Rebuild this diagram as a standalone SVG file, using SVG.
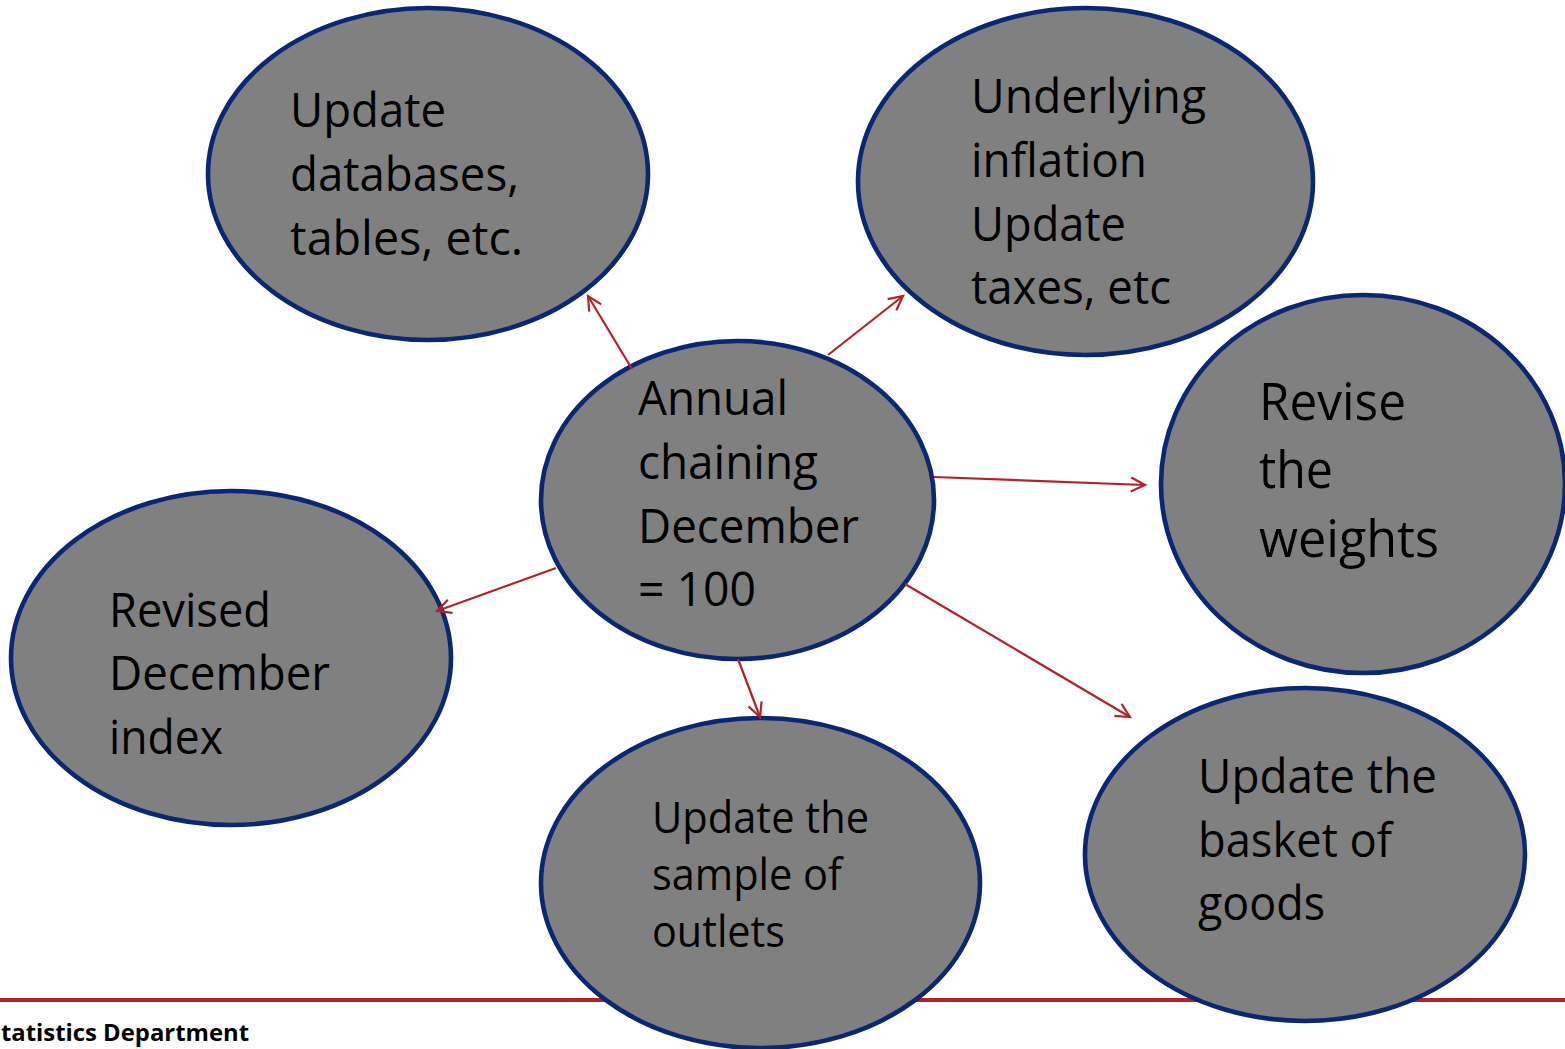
<svg xmlns="http://www.w3.org/2000/svg" width="1565" height="1049" viewBox="0 0 1565 1049">
<style>
.node ellipse{fill:#808080;stroke:#0C2772;stroke-width:4.6}
.node text{font-family:"Open Sans","Noto Sans",sans-serif;fill:#000}
.t48{font-size:48px}
.t51{font-size:51px}
.t43{font-size:43px}
.conn line{stroke:#B0232B;stroke-width:2.2;fill:none}
.footer{font-family:"Open Sans","Noto Sans",sans-serif;font-weight:bold;font-size:23px;fill:#000}
</style>
<defs>
<marker id="arr" markerUnits="userSpaceOnUse" markerWidth="20" markerHeight="20" refX="16" refY="9" orient="auto">
<path d="M2,2 L16,9 L2,16" fill="none" stroke="#B0232B" stroke-width="2.2"/>
</marker>
</defs>
<rect width="1565" height="1049" fill="#fff"/>
<line x1="0" y1="1000" x2="1565" y2="1000" stroke="#B2232C" stroke-width="4"/>
<text class="footer" x="1" y="1041" textLength="248" lengthAdjust="spacingAndGlyphs">tatistics Department</text>

<g id="n-databases" class="node">
<ellipse cx="428" cy="174" rx="220" ry="166"/>
<text class="t48"><tspan x="290" y="127" textLength="156" lengthAdjust="spacingAndGlyphs">Update</tspan><tspan x="290" y="191" textLength="229" lengthAdjust="spacingAndGlyphs">databases,</tspan><tspan x="290" y="255" textLength="233" lengthAdjust="spacingAndGlyphs">tables, etc.</tspan></text>
</g>
<g id="n-inflation" class="node">
<ellipse cx="1085.5" cy="181.5" rx="227.5" ry="173.5"/>
<text class="t48"><tspan x="971" y="113" textLength="235" lengthAdjust="spacingAndGlyphs">Underlying</tspan><tspan x="971" y="177" textLength="176" lengthAdjust="spacingAndGlyphs">inflation</tspan><tspan x="971" y="241" textLength="155" lengthAdjust="spacingAndGlyphs">Update</tspan><tspan x="971" y="304" textLength="200" lengthAdjust="spacingAndGlyphs">taxes, etc</tspan></text>
</g>
<g id="n-chaining" class="node">
<ellipse cx="737.5" cy="500" rx="196.5" ry="159"/>
<text class="t48"><tspan x="638" y="415" textLength="150" lengthAdjust="spacingAndGlyphs">Annual</tspan><tspan x="638" y="479" textLength="180" lengthAdjust="spacingAndGlyphs">chaining</tspan><tspan x="638" y="543" textLength="221" lengthAdjust="spacingAndGlyphs">December</tspan><tspan x="638" y="606" textLength="118" lengthAdjust="spacingAndGlyphs">= 100</tspan></text>
</g>
<g id="n-weights" class="node">
<ellipse cx="1363" cy="484" rx="202" ry="189"/>
<text class="t51"><tspan x="1259" y="420" textLength="147" lengthAdjust="spacingAndGlyphs">Revise</tspan><tspan x="1259" y="488" textLength="74" lengthAdjust="spacingAndGlyphs">the</tspan><tspan x="1259" y="557" textLength="180" lengthAdjust="spacingAndGlyphs">weights</tspan></text>
</g>
<g id="n-revised" class="node">
<ellipse cx="231" cy="658" rx="220" ry="167"/>
<text class="t48"><tspan x="109" y="627" textLength="162" lengthAdjust="spacingAndGlyphs">Revised</tspan><tspan x="109" y="690" textLength="221" lengthAdjust="spacingAndGlyphs">December</tspan><tspan x="109" y="754" textLength="114" lengthAdjust="spacingAndGlyphs">index</tspan></text>
</g>
<g id="n-outlets" class="node">
<ellipse cx="760.5" cy="883" rx="219.5" ry="165"/>
<text class="t43"><tspan x="652" y="833" textLength="217" lengthAdjust="spacingAndGlyphs">Update the</tspan><tspan x="652" y="890" textLength="190" lengthAdjust="spacingAndGlyphs">sample of</tspan><tspan x="652" y="947" textLength="133" lengthAdjust="spacingAndGlyphs">outlets</tspan></text>
</g>
<g id="n-basket" class="node">
<ellipse cx="1305" cy="854.5" rx="220" ry="166.5"/>
<text class="t48"><tspan x="1198" y="793" textLength="239" lengthAdjust="spacingAndGlyphs">Update the</tspan><tspan x="1198" y="857" textLength="194" lengthAdjust="spacingAndGlyphs">basket of</tspan><tspan x="1198" y="920" textLength="127" lengthAdjust="spacingAndGlyphs">goods</tspan></text>
</g>

<g id="connectors" class="conn">
<line x1="632" y1="369" x2="588" y2="296" marker-end="url(#arr)"/>
<line x1="828" y1="355" x2="903" y2="296" marker-end="url(#arr)"/>
<line x1="934" y1="477" x2="1145" y2="485" marker-end="url(#arr)"/>
<line x1="556" y1="568" x2="437" y2="611" marker-end="url(#arr)"/>
<line x1="738" y1="659" x2="760" y2="717" marker-end="url(#arr)"/>
<line x1="905" y1="584" x2="1130" y2="717" marker-end="url(#arr)"/>
</g>
</svg>
